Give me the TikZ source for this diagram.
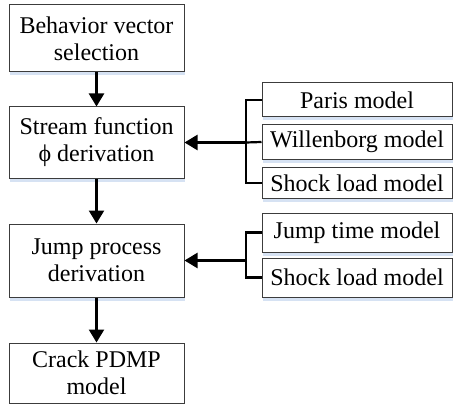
\documentclass[tikz,border=0pt]{standalone}
\usepackage{fontspec}
\setmainfont{Liberation Serif}
\usetikzlibrary{arrows.meta}
\definecolor{shade}{RGB}{214,226,243}
\definecolor{edge}{RGB}{60,60,60}
\tikzset{
  box/.style={draw=edge, line width=1pt, fill=white, align=center, inner sep=0pt,
    font=\fontsize{24}{27}\selectfont},
  boxshadow/.style={fill=shade, draw=none},
  flow/.style={line width=2.4pt, -{Triangle[width=15pt,length=13pt]}},
  bracket/.style={line width=2.2pt}
}
\newcommand{\shadowbox}[6]{%
  % #1 name, #2 x, #3 y, #4 width, #5 height, #6 text
  \fill[boxshadow] (#2-#4/2+1,#3-#5/2+1) rectangle (#2+#4/2+1,#3-#5/2-3.5);
  \node[box, minimum width=#4pt, minimum height=#5pt] (#1) at (#2,#3) {#6};
}
\begin{document}
\begin{tikzpicture}[x=1pt,y=1pt]
\useasboundingbox (0,0) rectangle (453,-404);
% main chain
\shadowbox{sel}{96.5}{-38.5}{175}{67}{Behavior vector\\selection}
\shadowbox{stream}{96.5}{-142.5}{175}{71}{Stream function\\ϕ derivation}
\shadowbox{jump}{96.5}{-260.5}{175}{73}{Jump process\\derivation}
\node[box, minimum width=175pt, minimum height=60pt] (pdmp) at (96.5,-373) {Crack PDMP\\model};
% input models
\shadowbox{paris}{357}{-100}{190}{34}{Paris model}
\shadowbox{will}{357}{-142}{190}{34}{Willenborg model}
\shadowbox{shockA}{357}{-183}{190}{31}{Shock load model}
\shadowbox{jtime}{357}{-232.5}{190}{39}{Jump time model}
\shadowbox{shockB}{357}{-277.5}{190}{39}{Shock load model}
% bracket junctions
\coordinate (bA) at (246,-142.5);
\coordinate (bB) at (246,-260.5);
\draw[bracket] (paris.west) -| (bA) |- (shockA.west);
\draw[bracket] (will.west) -- (bA);
\draw[bracket] (jtime.west) -| (bB) |- (shockB.west);
% flow arrows
\draw[flow] (bA) -- (stream.east);
\draw[flow] (bB) -- (jump.east);
\draw[flow] (sel) -- (stream);
\draw[flow] (stream) -- (jump);
\draw[flow] (jump) -- (pdmp);
\end{tikzpicture}
\end{document}
